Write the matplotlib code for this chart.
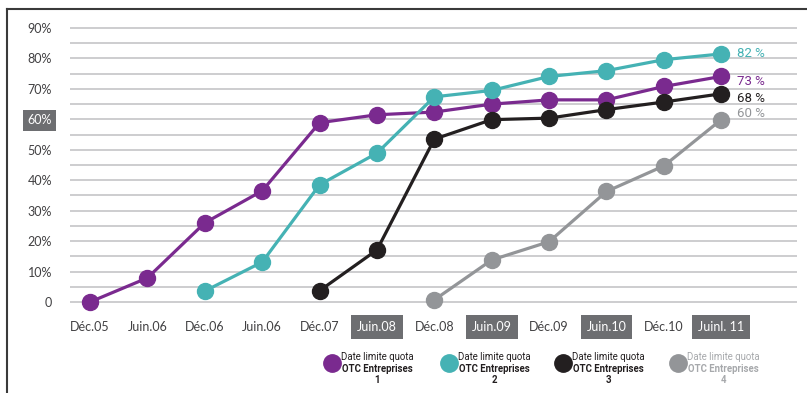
import numpy as np
import matplotlib.pyplot as plt
from matplotlib.lines import Line2D

# periods on the x axis
periods = ["Déc.05", "Juin.06", "Déc.06", "Juin.06", "Déc.07", "Juin.08",
           "Déc.08", "Juin.09", "Déc.09", "Juin.10", "Déc.10", "Juinl. 11"]
boxed_periods = ["Juin.08", "Juin.09", "Juin.10", "Juinl. 11"]

# share of quota reached (%) for each deadline, starting index in periods
quota1 = [0, 7.9, 26, 36.5, 58.9, 61.5, 62.4, 65.0, 66.4, 66.4, 70.8, 74.1]
quota2 = [3.6, 13.1, 38.5, 48.9, 67.4, 69.5, 74.1, 76.0, 79.6, 81.5]
quota3 = [3.7, 17.1, 53.5, 59.9, 60.4, 63.2, 65.7, 68.4]
quota4 = [0.7, 13.8, 19.8, 36.3, 44.7, 59.9]
starts = [0, 2, 4, 6]
end_labels = ["73 %", "82 %", "68 %", "60 %"]
end_label_y = [72.5, 81.5, 67.0, 62.0]
legend_names = ["1", "2", "3", "4"]

colors = ["#7a2a8f", "#45b2b4", "#231f20", "#939598"]
text_colors = ["#231f20", "#231f20", "#231f20", "#a7a9ac"]
box_col = "#6d6e71"
font = ["Lato", "DejaVu Sans"]
narrow = ["Roboto", "DejaVu Sans"]

fig = plt.figure(figsize=(8.07, 3.93), dpi=100)
ax = fig.add_axes([0.0867, 0.1929, 0.9009, 0.759])
ax.set_xlim(-0.35, 12.32)
ax.set_ylim(-5, 93)

for y in np.arange(0, 91, 5):
    ax.axhline(y, color="#c9c9cb", lw=1.3, zorder=0)

series = [quota1, quota2, quota3, quota4]
for vals, s, c in zip(series, starts, colors):
    x = np.arange(s, s + len(vals))
    ax.plot(x, vals, color=c, lw=2.3, marker="o", ms=11.5, zorder=3)

# end labels
for lab, ly, c in zip(end_labels, end_label_y, colors):
    ax.text(11.27, ly, lab, color=c, fontsize=9.5, family=narrow, va="center")

for sp in ax.spines.values():
    sp.set_visible(False)
ax.tick_params(length=0)

ax.set_xticks(np.arange(len(periods)))
ax.set_xticklabels(periods, fontsize=9, family=font, color="#414042")
ax.tick_params(axis="x", pad=3)
for lab in ax.get_xticklabels():
    if lab.get_text() in boxed_periods:
        lab.set_color("white")
        lab.set_bbox(dict(facecolor=box_col, edgecolor="none", pad=4.2))

yt = np.arange(0, 91, 10)
ax.set_yticks(yt)
ax.set_yticklabels(["0"] + [f"{v}%" for v in yt[1:]], fontsize=9,
                   family=font, color="#414042")
ax.tick_params(axis="y", pad=13)
for lab in ax.get_yticklabels():
    if lab.get_text() == "60%":
        lab.set_color("white")
        lab.set_bbox(dict(facecolor=box_col, edgecolor="none", pad=3.2))

# legend
leg_cx = [332, 449, 563, 678]
for cx, c, tc, n in zip(leg_cx, colors, text_colors, legend_names):
    fx = cx / 807
    fig.add_artist(Line2D([fx], [1 - 362.7 / 393], marker="o", ms=12.5,
                          color=c, transform=fig.transFigure))
    tx = (cx + 45) / 807
    fig.text(tx, 1 - 357.5 / 393, "Date limite quota", fontsize=6.9,
             family=narrow, color=tc, ha="center", va="center")
    fig.text(tx, 1 - 369.3 / 393, "OTC Entreprises", fontsize=6.9,
             family=narrow, color=tc, ha="center", va="center", weight="bold")
    fig.text(tx, 1 - 380.3 / 393, n, fontsize=6.9,
             family=narrow, color=tc, ha="center", va="center", weight="bold")

# frame lines (left and top)
fig.add_artist(Line2D([7 / 807, 7 / 807], [0, 1 - 9 / 393], color="#3a3a3a",
                      lw=1.5, transform=fig.transFigure))
fig.add_artist(Line2D([7 / 807, 1], [1 - 9 / 393, 1 - 9 / 393], color="#3a3a3a",
                      lw=1.5, transform=fig.transFigure))

fig.savefig("out.png", dpi=100)
